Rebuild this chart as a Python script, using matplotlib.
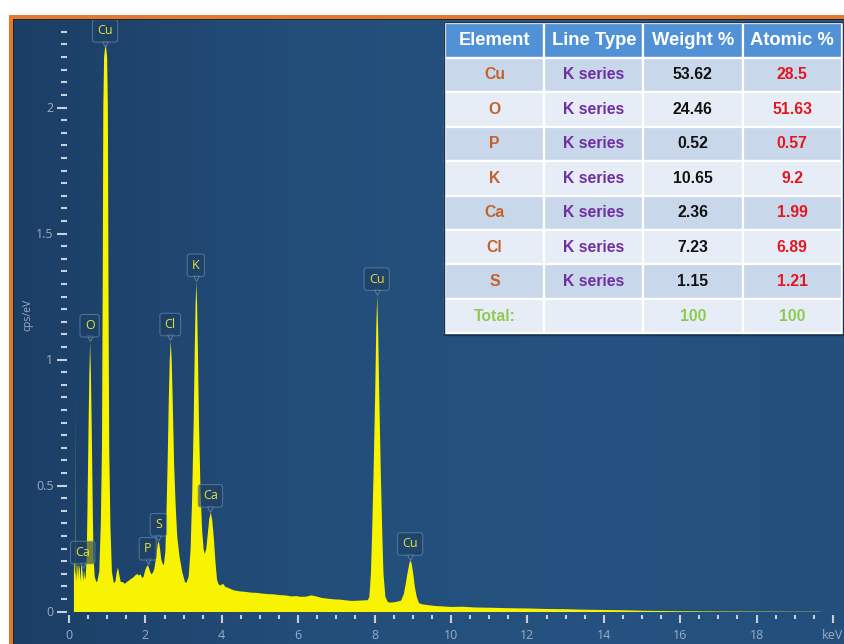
import numpy as np
import matplotlib
matplotlib.use('Agg')
import matplotlib.pyplot as plt
import matplotlib.transforms as mtransforms
from matplotlib.patches import Rectangle
from matplotlib.ticker import MultipleLocator, FixedLocator

# EDS spectrum, traced point by point (keV, cps/eV)
energy_kev = [
    0.115, 0.116, 0.13, 0.145, 0.152, 0.156, 0.160, 0.175, 0.19, 0.21, 0.225,
    0.245, 0.27, 0.285, 0.30, 0.32, 0.345, 0.36, 0.38, 0.40,
    0.42, 0.45, 0.47, 0.50, 0.52, 0.54, 0.56, 0.58, 0.61, 0.63, 0.66, 0.70,
    0.725, 0.78, 0.82, 0.85, 0.87, 0.885, 0.905, 0.945, 0.985, 1.005, 1.02,
    1.04, 1.07, 1.11, 1.16,
    1.20, 1.24, 1.27, 1.30, 1.34, 1.40, 1.45, 1.51, 1.56, 1.60, 1.65, 1.69,
    1.74, 1.78, 1.82, 1.86, 1.90, 1.94, 1.98, 2.02, 2.06, 2.10, 2.14, 2.18,
    2.22, 2.27, 2.31, 2.34, 2.37, 2.40, 2.43, 2.47,
    2.51, 2.54, 2.57, 2.60, 2.625, 2.65, 2.675, 2.70, 2.74, 2.78, 2.82, 2.88,
    2.95, 3.02, 3.06,
    3.12, 3.17, 3.21, 3.25, 3.28, 3.30, 3.32, 3.34, 3.36, 3.39, 3.43, 3.47,
    3.51, 3.54,
    3.58, 3.62, 3.66, 3.70, 3.74, 3.78, 3.82, 3.86, 3.90, 3.95, 4.02, 4.08,
    4.15, 4.30, 4.45, 4.60, 4.75, 4.90, 5.05, 5.20, 5.35, 5.50, 5.65, 5.80,
    5.95, 6.06, 6.20, 6.33, 6.45, 6.60, 6.75, 6.94, 7.10, 7.25, 7.38, 7.55,
    7.70, 7.81,
    7.85, 7.89, 7.92, 7.96, 8.00, 8.03, 8.055, 8.08, 8.11, 8.15, 8.19, 8.22,
    8.27, 8.33, 8.40,
    8.55, 8.68, 8.75, 8.80, 8.85, 8.90, 8.93, 8.96, 9.00, 9.04, 9.09, 9.15,
    9.25,
    9.40, 9.56, 9.80, 10.0, 10.3, 10.6, 11.0, 11.5, 12.0, 12.5, 13.0, 13.5,
    14.0, 14.5, 15.0, 15.5, 16.0, 17.0, 18.0, 19.0, 19.6, 19.7,
]
cps = [
    0.0, 0.19, 0.20, 0.15, 0.16, 0.865, 0.16, 0.12, 0.19, 0.18, 0.13,
    0.19, 0.17, 0.12, 0.16, 0.20, 0.15, 0.12, 0.17, 0.14,
    0.13, 0.22, 0.40, 0.75, 0.95, 1.07, 0.95, 0.75, 0.40, 0.22, 0.14, 0.12,
    0.12, 0.16, 0.35, 0.65, 1.30, 2.00, 2.20, 2.26, 2.20, 2.00, 1.30,
    0.65, 0.35, 0.16, 0.115,
    0.12, 0.16, 0.176, 0.15, 0.12, 0.118, 0.112, 0.12, 0.125, 0.13, 0.135, 0.14,
    0.148, 0.15, 0.145, 0.15, 0.135, 0.14, 0.165, 0.18, 0.185, 0.165, 0.15, 0.155,
    0.17, 0.22, 0.27, 0.28, 0.25, 0.21, 0.195, 0.185,
    0.24, 0.40, 0.60, 0.85, 1.00, 1.075, 1.00, 0.85, 0.58, 0.42, 0.30, 0.22,
    0.16, 0.12, 0.115,
    0.14, 0.25, 0.45, 0.75, 1.05, 1.22, 1.31, 1.22, 1.05, 0.75, 0.48, 0.33,
    0.25, 0.23,
    0.25, 0.31, 0.37, 0.395, 0.36, 0.29, 0.20, 0.13, 0.11, 0.105, 0.112, 0.10,
    0.096, 0.086, 0.082, 0.080, 0.077, 0.076, 0.073, 0.071, 0.070, 0.067, 0.066, 0.062,
    0.063, 0.060, 0.061, 0.066, 0.062, 0.056, 0.053, 0.050, 0.049, 0.046, 0.044, 0.045,
    0.046, 0.047,
    0.06, 0.15, 0.30, 0.55, 0.85, 1.12, 1.255, 1.12, 0.85, 0.55, 0.30, 0.15,
    0.06, 0.04, 0.037,
    0.04, 0.045, 0.07, 0.11, 0.155, 0.195, 0.204, 0.19, 0.15, 0.10, 0.06, 0.035,
    0.03,
    0.027, 0.024, 0.022, 0.020, 0.021, 0.018, 0.017, 0.015, 0.014, 0.012, 0.011, 0.009,
    0.008, 0.007, 0.005, 0.004, 0.003, 0.002, 0.0015, 0.001, 0.001, 0.0,
]

# element markers on the peaks
label_names = ['Ca', 'O', 'Cu', 'P', 'S', 'Cl', 'K', 'Ca', 'Cu', 'Cu']
label_kev = [0.36, 0.54, 0.945, 2.06, 2.34, 2.65, 3.32, 3.70, 8.055, 8.93]
label_ceiling = 2.24  # markers never climb above this

# quantification table
table_header = ['Element', 'Line Type', 'Weight %', 'Atomic %']
elements = ['Cu', 'O', 'P', 'K', 'Ca', 'Cl', 'S']
line_type = ['K series'] * 7
weight_pct = [53.62, 24.46, 0.52, 10.65, 2.36, 7.23, 1.15]
atomic_pct = [28.5, 51.63, 0.57, 9.2, 1.99, 6.89, 1.21]

x_ticks = list(range(0, 21, 2))
x_tick_labels = [str(v) for v in range(0, 20, 2)] + ['keV']
y_ticks = [0, 0.5, 1, 1.5, 2]
y_tick_labels = ['0', '0.5', '1', '1.5', '2']

W, H = 845, 644


def fx(px):
    return px / W


def fy(py):
    return 1 - py / H


fig = plt.figure(figsize=(W / 100, H / 100), dpi=100)
fig.patch.set_facecolor('white')

# dark blue panel with a soft horizontal gradient
bg = fig.add_axes([fx(13), 0, 1 - fx(13), fy(19)])
t = np.linspace(0, 1, 400)
stops = [0.0, 0.35, 0.7, 1.0]
cols = np.array([[27, 62, 101], [35, 78, 122], [37, 82, 128], [35, 79, 124]]) / 255
img = np.stack([np.interp(t, stops, cols[:, i]) for i in range(3)], axis=-1)[None, :, :]
bg.imshow(img, aspect='auto', extent=[0, 1, 0, 1])
bg.axis('off')

# orange frame
orange = '#e8792c'
fig.add_artist(Rectangle((fx(9), 0), 4 / W, fy(15), transform=fig.transFigure,
                         color=orange, lw=0))
fig.add_artist(Rectangle((fx(9), fy(19)), 1, 4 / H, transform=fig.transFigure,
                         color=orange, lw=0))
fig.add_artist(Rectangle((fx(13), 0), 1.2 / W, fy(19), transform=fig.transFigure,
                         color='#14263a', lw=0))
fig.add_artist(Rectangle((fx(13), fy(20.2)), 1, 1.2 / H, transform=fig.transFigure,
                         color='#14263a', lw=0))

# spectrum axes
ax = fig.add_axes([fx(69), fy(611.5), 764 / W, 2.33 * 252 / H])
ax.set_facecolor('none')
ax.set_xlim(0, 20)
ax.set_ylim(0, 2.33)
for s in ax.spines.values():
    s.set_visible(False)
ax.spines['bottom'].set_position(('outward', 2.2))
ax.spines['left'].set_position(('outward', 1.5))

ax.fill_between(energy_kev, cps, 0, color='#f8f300', lw=0, zorder=2)

tick_c = '#c6cfdb'
lbl_c = '#9badc4'
ax.xaxis.set_major_locator(FixedLocator(x_ticks))
ax.xaxis.set_minor_locator(MultipleLocator(0.5))
ax.yaxis.set_major_locator(FixedLocator(y_ticks))
ax.yaxis.set_minor_locator(MultipleLocator(0.05))
ax.set_xticklabels(x_tick_labels)
ax.set_yticklabels(y_tick_labels)
ax.tick_params(axis='x', which='major', length=5.8, width=1.5, color=tick_c,
               pad=4.5, labelsize=9, labelcolor=lbl_c)
ax.tick_params(axis='x', which='minor', length=2.6, width=1.5, color=tick_c)
ax.tick_params(axis='y', which='major', length=7.2, width=1.5, color=tick_c,
               pad=2.5, labelsize=9, labelcolor=lbl_c)
ax.tick_params(axis='y', which='minor', length=4.1, width=1.5, color=tick_c)
for lab in ax.get_xticklabels() + ax.get_yticklabels():
    lab.set_family('Open Sans')

fig.text(fx(28), fy(315), 'cps/eV', rotation=90, ha='center', va='center',
         fontsize=7.5, color=lbl_c, family='Open Sans')

# peak markers: small callout box with a pointer
box_fc = '#1d3f63'
box_ec = '#6d8cad'
e_arr = np.array(energy_kev)
c_arr = np.array(cps)
for name, kev in zip(label_names, label_kev):
    sel = np.abs(e_arr - kev) <= 0.025
    top = min(c_arr[sel].max(), label_ceiling)
    tri = mtransforms.offset_copy(ax.transData, fig=fig, x=0, y=3.4, units='dots')
    ax.plot([kev], [top], marker='v', ms=5, mfc=box_fc, mec=box_ec, mew=0.8,
            alpha=0.75, transform=tri, zorder=4, clip_on=False)
    ax.annotate(name, xy=(kev, top), xytext=(0, 11.6), textcoords='offset points',
                ha='center', va='center', fontsize=9, color='#e4e03a',
                family='Open Sans', zorder=5,
                bbox=dict(boxstyle='round,pad=0.38,rounding_size=0.2',
                          fc=box_fc, ec=box_ec, lw=0.8, alpha=0.62))

# quantification table
tx0, ty0, tx1, ty1 = 445, 23.3, 841.7, 333.3
fig.add_artist(Rectangle((fx(tx0) - 1.2 / W, fy(ty1) - 1.2 / H), (tx1 - tx0 + 2.4) / W,
                         (ty1 - ty0 + 2.4) / H, transform=fig.transFigure,
                         fc='none', ec='#1b3049', lw=1.0))
tax = fig.add_axes([fx(tx0), fy(ty1), (tx1 - tx0) / W, (ty1 - ty0) / H])
tax.axis('off')
rows = [[e, lt, f'{w:g}', f'{a:g}'] for e, lt, w, a in
        zip(elements, line_type, weight_pct, atomic_pct)]
rows.append(['Total:', '', f'{round(sum(weight_pct))}', f'{round(sum(atomic_pct))}'])
tbl = tax.table(cellText=rows, colLabels=table_header, cellLoc='center',
                bbox=[0, 0, 1, 1])
tbl.auto_set_font_size(False)
col_colors = ['#c2622a', '#7030a0', '#111111', '#e3161e']
n_rows = len(rows)
for (r, c), cell in tbl.get_celld().items():
    cell.set_edgecolor('white')
    cell.set_linewidth(1.6)
    txt = cell.get_text()
    txt.set_family('Liberation Sans')
    txt.set_fontweight('bold')
    if r == 0:
        cell.set_facecolor('#5192d6')
        txt.set_color('white')
        txt.set_fontsize(13.2)
    else:
        cell.set_facecolor('#c9d7eb' if r % 2 == 1 else '#e7edf6')
        txt.set_fontsize(11.3)
        txt.set_color('#8fca50' if r == n_rows else col_colors[c])

fig.savefig('out.png', dpi=100)
